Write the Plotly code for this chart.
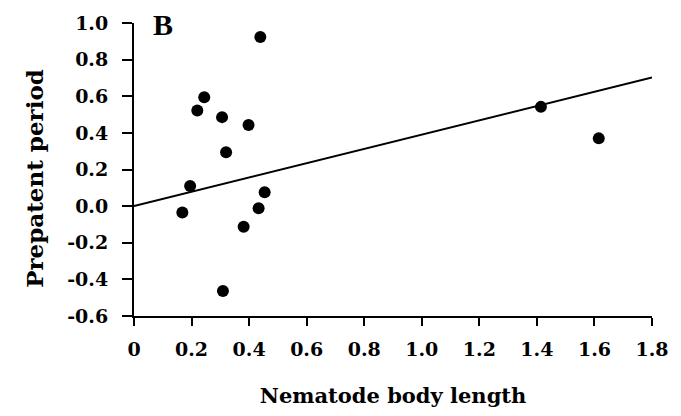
import plotly.graph_objects as go

# data
body_length = [0.168, 0.195, 0.220, 0.244, 0.306, 0.320, 0.398, 0.439, 0.454,
               0.433, 0.381, 0.309, 1.414, 1.615]
prepatent = [-0.035, 0.110, 0.522, 0.595, 0.486, 0.294, 0.443, 0.923, 0.076,
             -0.012, -0.112, -0.464, 0.542, 0.370]
fit_x = [0.0, 1.8]
fit_y = [0.0, 0.703]

x_tickvals = [0, 0.2, 0.4, 0.6, 0.8, 1.0, 1.2, 1.4, 1.6, 1.8]
x_ticktext = ["0", "0.2", "0.4", "0.6", "0.8", "1.0", "1.2", "1.4", "1.6", "1.8"]
y_tickvals = [-0.6, -0.4, -0.2, 0.0, 0.2, 0.4, 0.6, 0.8, 1.0]
y_ticktext = ["-0.6", "-0.4", "-0.2", "0.0", "0.2", "0.4", "0.6", "0.8", "1.0"]

FONT = "DejaVu Serif"

fig = go.Figure()
fig.add_trace(go.Scatter(x=fit_x, y=fit_y, mode="lines",
                         line=dict(color="black", width=2), showlegend=False))
fig.add_trace(go.Scatter(x=body_length, y=prepatent, mode="markers",
                         marker=dict(color="black", size=12), showlegend=False))

fig.add_annotation(x=0.1, y=0.99, xref="x", yref="y", text="<b>B</b>",
                   showarrow=False, xanchor="center", yanchor="middle",
                   font=dict(family="Liberation Serif", size=30, color="black"))

# y-axis title (placed slightly below the plot centre as in the reference)
fig.add_annotation(x=-0.192, y=0.47, xref="paper", yref="paper",
                   text="<b>Prepatent period</b>", textangle=-90, showarrow=False,
                   xanchor="center", yanchor="middle",
                   font=dict(family=FONT, size=23, color="black"))

fig.update_layout(
    width=681, height=416,
    margin=dict(l=134, r=26, t=23, b=97, pad=0),
    paper_bgcolor="white", plot_bgcolor="white",
    font=dict(family=FONT, color="black"),
)
fig.update_xaxes(
    range=[0, 1.8], tickvals=x_tickvals, ticktext=x_ticktext,
    showgrid=False, zeroline=False, showline=True, linecolor="black", linewidth=2,
    ticks="outside", ticklen=8, tickwidth=2, tickcolor="black", ticklabelstandoff=7,
    tickfont=dict(family=FONT, size=19, weight="bold"),
    title=dict(text="<b>Nematode body length</b>", font=dict(family=FONT, size=21), standoff=30),
)
fig.update_yaxes(
    range=[-0.6, 1.0], tickvals=y_tickvals, ticktext=y_ticktext,
    showgrid=False, zeroline=False, showline=True, linecolor="black", linewidth=2,
    ticks="outside", ticklen=10, tickwidth=2, tickcolor="black", ticklabelstandoff=10,
    tickfont=dict(family=FONT, size=19, weight="bold"),
)

fig.write_html("out.html")
